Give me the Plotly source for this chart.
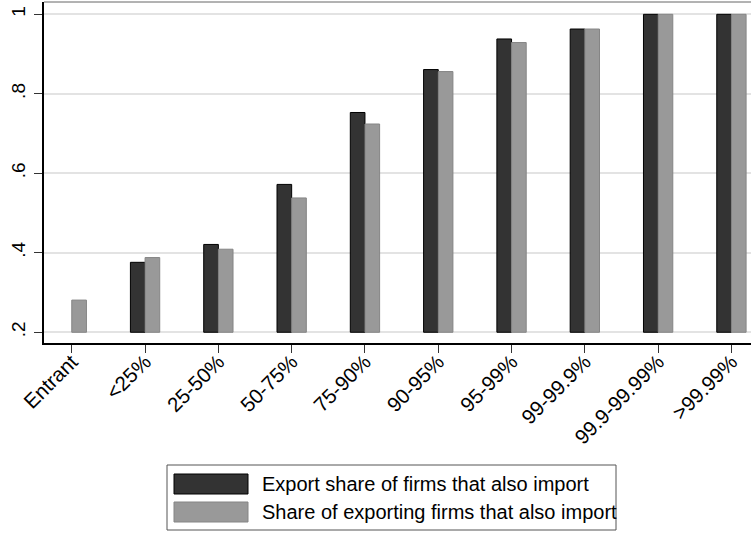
import plotly.graph_objects as go

categories = ["Entrant", "<25%", "25-50%", "50-75%", "75-90%", "90-95%",
              "95-99%", "99-99.9%", "99.9-99.99%", ">99.99%"]
export_share = [None, 0.376, 0.421, 0.572, 0.753, 0.861, 0.938, 0.963, 1.0, 1.0]
share_exporting = [0.281, 0.388, 0.409, 0.538, 0.724, 0.856, 0.929, 0.963, 1.0, 1.0]
series_names = ["Export share of firms that also import",
                "Share of exporting firms that also import"]
y_tickvals = [0.2, 0.4, 0.6, 0.8, 1.0]
y_ticktext = [".2", ".4", ".6", ".8", "1"]
BASE = 0.2

FONT = "Liberation Sans, Arial, sans-serif"
W, H = 751, 534
L, R, T, B = 44, 751, 2, 343  # plot area in pixels


def px(x):
    return (x - L) / (R - L)


def py(y):
    return (B - y) / (B - T)


fig = go.Figure()
fig.add_trace(go.Bar(
    x=categories,
    y=[None if v is None else v - BASE for v in export_share],
    base=BASE, name=series_names[0],
    marker=dict(color="#333333", line=dict(color="#000000", width=1)),
    showlegend=False))
fig.add_trace(go.Bar(
    x=categories,
    y=[None if v is None else v - BASE for v in share_exporting],
    base=BASE, name=series_names[1],
    marker=dict(color="#999999", line=dict(color="#858585", width=1)),
    showlegend=False))

fig.update_layout(
    width=W, height=H,
    margin=dict(l=L, r=W - R, t=T, b=H - B, autoexpand=False),
    paper_bgcolor="white", plot_bgcolor="white",
    barmode="group", bargap=0.6, bargroupgap=0,
    font=dict(family=FONT, size=19, color="black"),
    showlegend=False,
)
fig.update_xaxes(
    type="category", range=[-0.379, 9.267],
    showline=True, linecolor="black", linewidth=1.5,
    ticks="outside", ticklen=8, tickcolor="#333333", tickwidth=1,
    tickangle=-45, showgrid=False, zeroline=False,
    ticklabelstandoff=-11,
    tickfont=dict(family=FONT, size=20.5, color="black"),
)
fig.update_yaxes(
    range=[0.173, 1.031],
    tickvals=y_tickvals, ticktext=y_ticktext,
    showline=True, linecolor="black", linewidth=1.5,
    ticks="outside", ticklen=8, tickcolor="#333333", tickwidth=1,
    tickangle=-90, showgrid=True, gridcolor="#e3e3e3", gridwidth=1.5,
    zeroline=False, ticklabelstandoff=2,
    tickfont=dict(family=FONT, size=19, color="black"),
)

# top frame line
fig.add_shape(type="line", xref="paper", yref="paper",
              x0=0, x1=1, y0=1, y1=1,
              line=dict(color="#666666", width=1))

# custom legend (Stata style)
fig.add_shape(type="rect", xref="paper", yref="paper",
              x0=px(167), x1=px(616), y0=py(530), y1=py(465),
              line=dict(color="#555555", width=1), fillcolor="white")
swatches = [("#333333", "#000000", 474, 494), ("#999999", "#858585", 502, 522)]
for (fill, edge, y0, y1), name in zip(swatches, series_names):
    fig.add_shape(type="rect", xref="paper", yref="paper",
                  x0=px(174), x1=px(248), y0=py(y1), y1=py(y0),
                  line=dict(color=edge, width=1), fillcolor=fill)
    fig.add_annotation(xref="paper", yref="paper",
                       x=px(260), y=py((y0 + y1) / 2),
                       xanchor="left", yanchor="middle", showarrow=False,
                       text=name, font=dict(family=FONT, size=20, color="black"))

fig.write_html("out.html", config={"displayModeBar": False},
               post_script="document.body.style.margin='0';document.body.style.padding='0';")
